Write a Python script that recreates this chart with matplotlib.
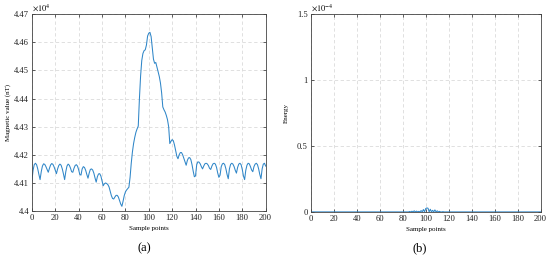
import numpy as np
import matplotlib
matplotlib.use("Agg")
import matplotlib.pyplot as plt

plt.rcParams['font.family'] = ['Liberation Serif', 'DejaVu Serif']
plt.rcParams['mathtext.fontset'] = 'stix'

# ---- data ----
magnetic_nT = [
    44108, 44145, 44165, 44170, 44165, 44150, 44130, 44112, 44140, 44160,
    44168, 44166, 44158, 44148, 44138, 44152, 44164, 44169, 44166, 44157,
    44145, 44133, 44150, 44162, 44167, 44163, 44150, 44132, 44112, 44140,
    44160, 44167, 44163, 44153, 44140, 44138, 44152, 44162, 44165, 44160,
    44147, 44130, 44128, 44150, 44158, 44155, 44145, 44130, 44117, 44135,
    44148, 44150, 44146, 44135, 44118, 44103, 44122, 44132, 44133, 44125,
    44108, 44090, 44097, 44100, 44098, 44094, 44086, 44070, 44055, 44045,
    44043, 44050, 44056, 44056, 44050, 44038, 44025, 44017, 44035, 44055,
    44068, 44075, 44080, 44085, 44120, 44170, 44210, 44240, 44262, 44280,
    44292, 44302, 44400, 44480, 44535, 44560, 44570, 44573, 44590, 44622,
    44632, 44635, 44620, 44580, 44540, 44525, 44528, 44512, 44495, 44478,
    44455, 44420, 44370, 44360, 44352, 44340, 44325, 44300, 44240, 44248,
    44254, 44250, 44235, 44215, 44195, 44186, 44200, 44208, 44208, 44200,
    44188, 44175, 44163, 44180, 44189, 44190, 44183, 44165, 44142, 44122,
    44125, 44165, 44175, 44174, 44168, 44158, 44150, 44160, 44168, 44170,
    44168, 44162, 44152, 44148, 44160, 44168, 44170, 44167, 44155, 44135,
    44120, 44128, 44158, 44168, 44170, 44165, 44150, 44130, 44115, 44150,
    44166, 44170, 44167, 44158, 44145, 44135, 44155, 44167, 44170, 44165,
    44148, 44125, 44112, 44145, 44163, 44170, 44168, 44158, 44146, 44140,
    44158, 44167, 44170, 44165, 44150, 44130, 44115, 44150, 44167, 44170,
    44160,
]
samples = list(range(len(magnetic_nT)))

# energy (x1e-4): zero except around the anomaly
energy_samples = [84, 86, 88, 90, 92, 94, 96, 98, 100, 101, 102, 104, 106, 108, 110, 112, 115, 118]
energy_values = [0.0, 0.003, 0.005, 0.008, 0.006, 0.004, 0.010, 0.018, 0.025, 0.030, 0.028,
                 0.020, 0.012, 0.015, 0.008, 0.004, 0.002, 0.0]

x_ticks = [0, 20, 40, 60, 80, 100, 120, 140, 160, 180, 200]
left_yticks = [4.40, 4.41, 4.42, 4.43, 4.44, 4.45, 4.46, 4.47]
left_yticklabels = ['4.4', '4.41', '4.42', '4.43', '4.44', '4.45', '4.46', '4.47']
right_yticks = [0, 0.5, 1, 1.5]
right_yticklabels = ['0', '0.5', '1', '1.5']

energy = [0.0] * len(samples)
for s, v in zip(energy_samples, energy_values):
    energy[s] = v

line_color = '#2f86c8'
grid_kw = dict(color='#dadada', linestyle=(0, (4, 3)), linewidth=0.6)

fig = plt.figure(figsize=(5.5, 2.6), dpi=100)
ax1 = fig.add_axes([0.058, 0.188, 0.425, 0.758])
ax2 = fig.add_axes([0.565, 0.185, 0.418, 0.762])


def style(ax):
    ax.grid(True, **grid_kw)
    ax.set_axisbelow(True)
    for sp in ax.spines.values():
        sp.set_color('#444444')
        sp.set_linewidth(0.6)
    ax.tick_params(direction='in', length=2, width=0.5, labelsize=6.2,
                   top=True, right=True, pad=2, colors='#222222')
    ax.set_xticks(x_ticks)
    ax.set_xlim(0, 200)
    ax.set_xlabel('Sample points', fontsize=5, labelpad=3)


ax1.plot(samples, np.array(magnetic_nT) / 1e4, color=line_color, linewidth=0.75)
style(ax1)
ax1.set_ylim(4.40, 4.47)
ax1.set_yticks(left_yticks)
ax1.set_yticklabels(left_yticklabels)
ax1.set_ylabel('Magnetic value (nT)', fontsize=5, labelpad=2)
ax1.text(0.0, 1.005, r'$\times10^4$', transform=ax1.transAxes, fontsize=6, va='bottom', ha='left')

ax2.plot(samples, energy, color=line_color, linewidth=0.75)
style(ax2)
ax2.set_ylim(0, 1.5)
ax2.set_yticks(right_yticks)
ax2.set_yticklabels(right_yticklabels)
ax2.set_ylabel('Energy', fontsize=5, labelpad=6)
ax2.text(0.0, 1.005, r'$\times10^{-4}$', transform=ax2.transAxes, fontsize=6, va='bottom', ha='left')

fig.text(144 / 550, 1 - 248 / 260, '(a)', fontsize=9, ha='center', va='center')
fig.text(420 / 550, 1 - 248 / 260, '(b)', fontsize=9, ha='center', va='center')

fig.savefig('out.png', dpi=100)
